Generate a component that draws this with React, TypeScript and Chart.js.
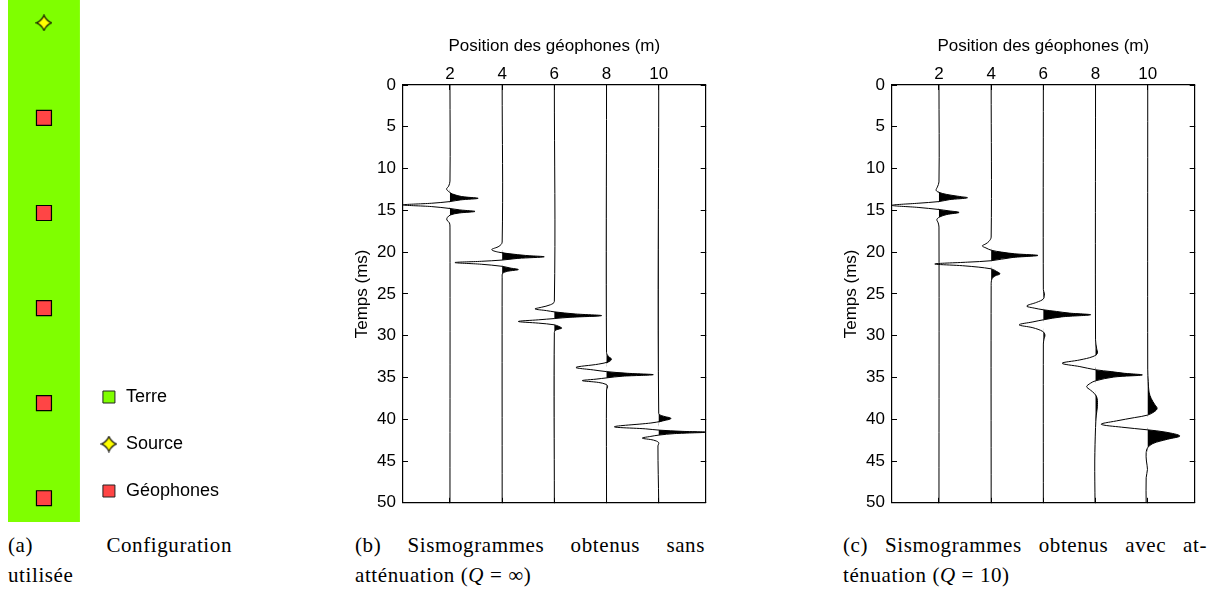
import React, { useEffect, useRef } from 'react';
import { Chart, registerables } from 'chart.js';

Chart.register(...registerables);

// ---------- Panel (a): configuration ----------
const configLabels = ['Terre', 'Source', 'Géophones'];
const sourceDepths = [0];
const geophoneDepths = [1, 2, 3, 4, 5];
const configDepthRange = [-0.24, 5.25];

// ---------- Panels (b) and (c): seismograms ----------
const geophonePositions = [2, 4, 6, 8, 10];
const positionTicks = [2, 4, 6, 8, 10];
const positionRange = [0.2, 11.8];
const timeRange = [0, 50];
const timeStep = 5;

// Each trace: [time (ms), deflection (m)]
// (b) without attenuation
const traceB1: [number, number][] = [[0, 0], [11.5, 0], [12.1, -0.05], [12.45, -0.13], [12.8, -0.03], [13.05, 0.1], [13.35, 0.45], [13.56, 1.08], [13.75, 0.4], [13.95, 0], [14.15, -0.7], [14.35, -1.8], [14.55, -0.7], [14.78, 0], [14.95, 0.38], [15.13, 0.96], [15.32, 0.35], [15.55, 0.02], [15.85, -0.1], [16.15, -0.12], [16.5, -0.02], [17, 0], [50, 0]];
const traceB2: [number, number][] = [[0, 0], [18.8, 0], [19.3, -0.12], [19.7, -0.4], [20.0, -0.15], [20.2, 0.3], [20.4, 0.9], [20.56, 1.61], [20.75, 0.6], [20.95, 0], [21.1, -0.8], [21.25, -1.81], [21.45, -0.8], [21.7, 0], [21.9, 0.3], [22.09, 0.62], [22.3, 0.2], [22.55, 0.02], [23, 0], [50, 0]];
const traceB3: [number, number][] = [[0, 0], [25.9, 0], [26.3, -0.15], [26.6, -0.5], [26.8, -0.74], [27.0, -0.3], [27.15, 0], [27.4, 0.8], [27.6, 1.81], [27.8, 0.6], [27.95, 0], [28.1, -0.6], [28.3, -1.38], [28.5, -0.6], [28.7, 0], [28.9, 0.18], [29.1, 0.28], [29.3, 0.08], [29.6, 0], [50, 0]];
const traceB4: [number, number][] = [[0, 0], [32.0, 0], [32.5, 0.08], [32.8, 0.19], [33.1, 0.1], [33.4, -0.3], [33.8, -1.17], [34.1, -0.5], [34.3, 0], [34.5, 0.8], [34.67, 1.79], [34.85, 0.6], [35.05, 0], [35.2, -0.4], [35.38, -0.93], [35.6, -0.3], [35.85, 0], [36.1, 0.04], [36.5, 0], [50, 0]];
const traceB5: [number, number][] = [[0, 0], [39.3, 0], [39.6, 0.15], [39.9, 0.47], [40.2, 0.15], [40.45, -0.3], [40.9, -1.7], [41.15, -0.5], [41.3, 0], [41.45, 0.9], [41.55, 1.85], [41.72, 0.6], [41.9, 0], [42.05, -0.3], [42.26, -0.63], [42.5, -0.2], [42.8, 0], [43.2, -0.03], [50, 0]];

// (c) with attenuation Q = 10
const traceC1: [number, number][] = [[0, 0], [11.6, 0], [12.2, -0.06], [12.6, -0.11], [12.85, 0], [13.1, 0.3], [13.3, 0.7], [13.5, 1.09], [13.72, 0.4], [13.95, 0], [14.15, -0.8], [14.4, -1.8], [14.65, -0.8], [14.9, 0], [15.05, 0.35], [15.25, 0.77], [15.5, 0.3], [15.8, 0.02], [16.1, -0.08], [16.5, -0.03], [17, 0], [50, 0]];
const traceC2: [number, number][] = [[0, 0], [18.2, 0], [18.7, -0.08], [19.0, -0.2], [19.26, -0.34], [19.5, -0.2], [19.77, 0], [20.0, 0.4], [20.2, 0.9], [20.4, 1.79], [20.65, 0.8], [21.03, 0], [21.2, -0.9], [21.42, -2.16], [21.65, -1.0], [22.0, 0], [22.3, 0.2], [22.6, 0.34], [22.85, 0.15], [23.2, 0.03], [24, 0], [50, 0]];
const traceC3: [number, number][] = [[0, 0], [24.5, 0], [25.0, 0.04], [25.6, 0], [26.0, -0.25], [26.45, -0.64], [26.7, -0.35], [26.9, 0], [27.1, 0.5], [27.3, 1.0], [27.5, 1.81], [27.75, 0.7], [28.1, 0], [28.35, -0.4], [28.7, -0.93], [29.05, -0.4], [29.5, -0.02], [29.9, 0.06], [30.5, 0.02], [31, 0], [50, 0]];
const traceC4: [number, number][] = [[0, 0], [30.5, 0], [31.5, 0.04], [32.1, 0.07], [32.5, -0.1], [32.9, -0.6], [33.3, -1.28], [33.7, -0.6], [34.08, 0], [34.3, 0.6], [34.5, 1.1], [34.7, 1.79], [34.95, 0.7], [35.4, 0], [35.7, -0.2], [36.1, -0.34], [36.5, -0.2], [36.9, -0.05], [37.5, 0.06], [38.5, 0.07], [39.5, 0.03], [41, 0], [45, -0.03], [50, -0.02]];
const traceC5: [number, number][] = [[0, 0], [34, 0], [35.5, 0.02], [36.75, 0.05], [37.5, 0.13], [38.2, 0.26], [38.7, 0.36], [39.1, 0.25], [39.5, 0], [39.8, -0.5], [40.2, -1.2], [40.6, -1.78], [40.95, -1.0], [41.27, 0], [41.55, 0.7], [42.0, 1.23], [42.4, 0.75], [42.9, 0.2], [43.4, 0], [44, -0.06], [45, -0.05], [46, -0.01], [47, -0.06], [50, -0.06]];

const tracesB = [traceB1, traceB2, traceB3, traceB4, traceB5];
const tracesC = [traceC1, traceC2, traceC3, traceC4, traceC5];

const axisFont = { family: '"Liberation Sans", Arial, sans-serif', size: 17 };

function makeStar(size: number): HTMLCanvasElement {
  const c = document.createElement('canvas');
  c.width = size;
  c.height = size;
  const ctx = c.getContext('2d') as CanvasRenderingContext2D;
  const m = size / 2;
  const r = size / 2 - 1;
  const k = r * 0.3;
  ctx.beginPath();
  ctx.moveTo(m, m - r);
  ctx.quadraticCurveTo(m + k, m - k, m + r, m);
  ctx.quadraticCurveTo(m + k, m + k, m, m + r);
  ctx.quadraticCurveTo(m - k, m + k, m - r, m);
  ctx.quadraticCurveTo(m - k, m - k, m, m - r);
  ctx.closePath();
  ctx.fillStyle = '#ffff00';
  ctx.fill();
  ctx.strokeStyle = '#000';
  ctx.lineWidth = 1.1;
  ctx.stroke();
  return c;
}

function traceDatasets(traces: [number, number][][]) {
  const out: any[] = [];
  traces.forEach((tr, i) => {
    const base = geophonePositions[i];
    out.push({
      label: 'fill' + i,
      xAxisID: 'x',
      yAxisID: 'y',
      data: tr.map(([t, d]) => ({ x: base + Math.max(d, 0), y: t })),
      borderWidth: 0,
      pointRadius: 0,
      backgroundColor: '#000',
      fill: { value: base },
      tension: 0.35,
      order: 1,
    });
    out.push({
      label: 'trace' + i,
      xAxisID: 'x',
      yAxisID: 'y',
      data: tr.map(([t, d]) => ({ x: base + d, y: t })),
      borderColor: '#000',
      borderWidth: 1,
      pointRadius: 0,
      fill: false,
      tension: 0.35,
      order: 0,
    });
  });
  return out;
}

function seismoConfig(traces: [number, number][][]): any {
  const setTicks = (s: any) => {
    s.ticks = positionTicks.map((v) => ({ value: v }));
  };
  const grid = { drawOnChartArea: false, drawTicks: true, tickLength: -5, color: '#000', lineWidth: 1 };
  const border = { display: true, color: '#000', width: 1.2 };
  return {
    type: 'line',
    data: { datasets: traceDatasets(traces) },
    options: {
      indexAxis: 'y',
      responsive: false,
      animation: false,
      devicePixelRatio: 1,
      events: [],
      layout: { autoPadding: false, padding: { left: 0, top: 0, right: 14.3, bottom: 15.7 } },
      scales: {
        x: {
          type: 'linear',
          axis: 'x',
          position: 'top',
          min: positionRange[0],
          max: positionRange[1],
          afterBuildTicks: setTicks,
          afterFit: (s: any) => { s.height = 60; },
          ticks: { color: '#000', font: axisFont, padding: 5, maxRotation: 0, autoSkip: false },
          grid,
          border,
          title: { display: true, text: 'Position des géophones (m)', color: '#000', font: axisFont, padding: { top: 11, bottom: 0 } },
        },
        y: {
          type: 'linear',
          axis: 'y',
          position: 'left',
          reverse: true,
          min: timeRange[0],
          max: timeRange[1],
          afterFit: (s: any) => { s.width = 63; },
          ticks: { stepSize: timeStep, color: '#000', font: axisFont, padding: 12 },
          grid,
          border,
          title: { display: true, text: 'Temps (ms)', color: '#000', font: axisFont, padding: { top: 12, bottom: 0 } },
        },
        x2: {
          type: 'linear',
          axis: 'x',
          position: 'bottom',
          min: positionRange[0],
          max: positionRange[1],
          afterBuildTicks: setTicks,
          afterFit: (s: any) => { s.height = 0; },
          ticks: { display: false },
          grid,
          border,
        },
        y2: {
          type: 'linear',
          axis: 'y',
          position: 'right',
          reverse: true,
          min: timeRange[0],
          max: timeRange[1],
          afterFit: (s: any) => { s.width = 0; },
          ticks: { display: false, stepSize: timeStep },
          grid,
          border,
        },
      },
      plugins: { legend: { display: false }, tooltip: { enabled: false } },
    },
  };
}

export default function App() {
  const aRef = useRef<HTMLCanvasElement>(null);
  const bRef = useRef<HTMLCanvasElement>(null);
  const cRef = useRef<HTMLCanvasElement>(null);

  useEffect(() => {
    const star = makeStar(17);
    const green = '#7fff00';
    const red = '#ff4545';
    const chartA = new Chart(aRef.current as HTMLCanvasElement, {
      type: 'scatter',
      data: {
        datasets: [
          {
            type: 'line',
            label: configLabels[0],
            data: [{ x: -1, y: configDepthRange[1] }, { x: 1, y: configDepthRange[1] }],
            fill: 'end',
            backgroundColor: green,
            borderWidth: 0,
            pointRadius: 0,
            order: 2,
            legendFill: green,
            legendStyle: 'rect',
          } as any,
          {
            label: configLabels[1],
            data: sourceDepths.map((d) => ({ x: 0, y: d })),
            pointStyle: star,
            pointRadius: 8,
            order: 0,
            legendFill: '#ffff00',
            legendStyle: star,
          } as any,
          {
            label: configLabels[2],
            data: geophoneDepths.map((d) => ({ x: 0, y: d })),
            pointStyle: 'rect',
            pointRadius: 10.6,
            backgroundColor: red,
            borderColor: '#000',
            borderWidth: 1.2,
            order: 0,
            legendFill: red,
            legendStyle: 'rect',
          } as any,
        ],
      },
      options: {
        responsive: false,
        animation: false,
        devicePixelRatio: 1,
        events: [],
        layout: { autoPadding: false, padding: { left: 8, right: 0, top: 0, bottom: 0 } },
        scales: {
          x: {
            type: 'linear',
            min: -1,
            max: 1,
            ticks: { display: false },
            grid: { display: false },
            border: { display: false },
            afterFit: (s: any) => { s.height = 7; },
          },
          y: { type: 'linear', display: false, reverse: true, min: configDepthRange[0], max: configDepthRange[1] },
        },
        plugins: {
          tooltip: { enabled: false },
          legend: {
            display: true,
            position: 'right',
            align: 'end',
            maxWidth: 400,
            labels: {
              usePointStyle: true,
              boxWidth: 16,
              boxHeight: 12,
              padding: 21,
              color: '#000',
              font: { family: '"Liberation Sans", Arial, sans-serif', size: 18, lineHeight: '26px' },
              generateLabels: (chart: any) =>
                chart.data.datasets.map((ds: any, i: number) => ({
                  text: [ds.label],
                  fillStyle: ds.legendFill,
                  strokeStyle: '#222',
                  lineWidth: 1,
                  pointStyle: ds.legendStyle,
                  hidden: false,
                  datasetIndex: i,
                  fontColor: '#000',
                })),
            },
          },
        },
      } as any,
    });
    const chartB = new Chart(bRef.current as HTMLCanvasElement, seismoConfig(tracesB));
    const chartC = new Chart(cRef.current as HTMLCanvasElement, seismoConfig(tracesC));
    return () => {
      chartA.destroy();
      chartB.destroy();
      chartC.destroy();
    };
  }, []);

  const cap: React.CSSProperties = {
    position: 'absolute',
    fontFamily: '"Liberation Serif", "Times New Roman", serif',
    fontSize: 21,
    lineHeight: '24px',
    color: '#000',
    whiteSpace: 'nowrap',
    letterSpacing: '0.6px',
  };
  const just: React.CSSProperties = { ...cap, textAlign: 'justify', textAlignLast: 'justify' as any };

  return (
    <div style={{ position: 'absolute', left: 0, top: 0, width: 1223, height: 591, background: '#fff', overflow: 'hidden' }}>
      <canvas ref={aRef} width={229} height={529} style={{ position: 'absolute', left: 0, top: 0 }} />
      <canvas ref={bRef} width={380} height={500} style={{ position: 'absolute', left: 340, top: 25 }} />
      <canvas ref={cRef} width={380} height={500} style={{ position: 'absolute', left: 828.7, top: 25 }} />

      <div style={{ ...just, left: 8, top: 533, width: 224 }}>(a) Configuration</div>
      <div style={{ ...cap, left: 8, top: 563 }}>utilisée</div>

      <div style={{ ...just, left: 355, top: 533, width: 350 }}>(b) Sismogrammes obtenus sans</div>
      <div style={{ ...cap, left: 355, top: 563 }}>
        atténuation (<i>Q</i> = ∞)
      </div>

      <div style={{ ...just, left: 843, top: 533, width: 364 }}>(c) Sismogrammes obtenus avec at-</div>
      <div style={{ ...cap, left: 843, top: 563 }}>
        ténuation (<i>Q</i> = 10)
      </div>
    </div>
  );
}
